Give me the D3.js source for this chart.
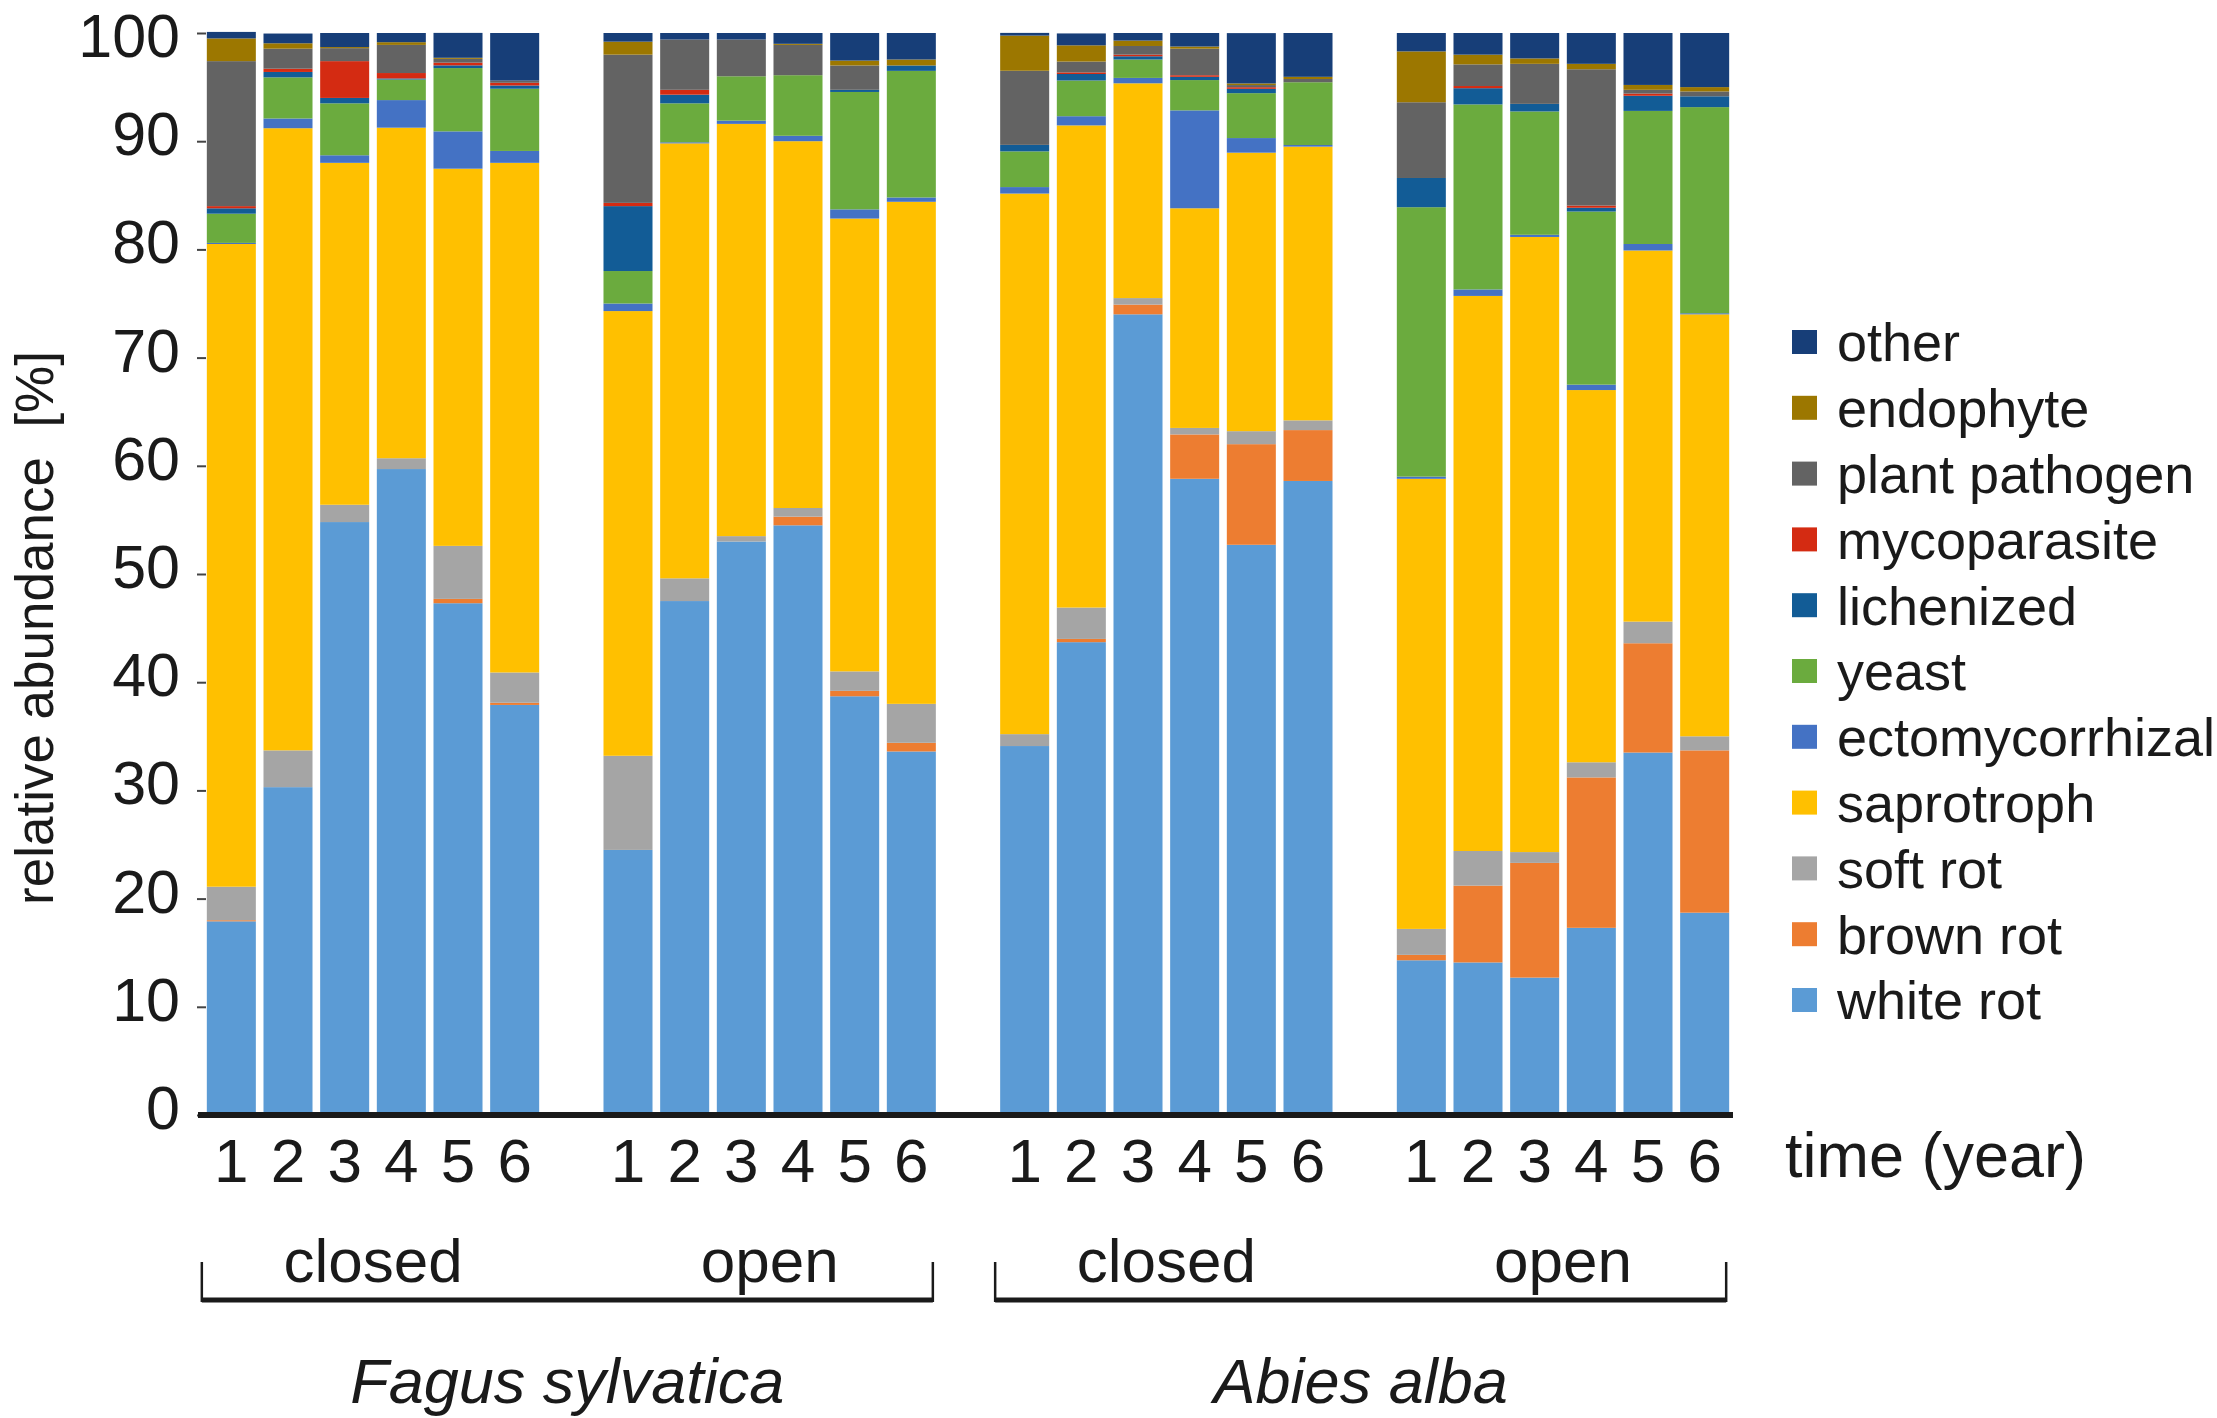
<!DOCTYPE html>
<html>
<head>
<meta charset="utf-8">
<script src="https://cdn.jsdelivr.net/npm/d3@7"></script>
<style>
  body { margin: 0; background: #fff; }
  text { font-family: "Liberation Sans", Arial, sans-serif; fill: #1a1a1a; }
</style>
</head>
<body>
<svg id="chart"></svg>
<script>
// bar order: Fagus closed 1-6, Fagus open 1-6, Abies closed 1-6, Abies open 1-6
var species = ["Fagus sylvatica", "Abies alba"];
var sites = ["closed", "open"];
var years = ["1", "2", "3", "4", "5", "6"];
var yTicks = [0, 10, 20, 30, 40, 50, 60, 70, 80, 90, 100];

// guilds, bottom of the stack first
var guilds = ["white rot", "brown rot", "soft rot", "saprotroph", "ectomycorrhizal",
              "yeast", "lichenized", "mycoparasite", "plant pathogen", "endophyte", "other"];
var colors = ["#5b9bd5", "#ed7d31", "#a5a5a5", "#ffc000", "#4472c4",
              "#6bab3e", "#125c96", "#d42b12", "#636363", "#9c7700", "#173e78"];

var whiteRot    = [17.9, 30.3, 54.8, 59.7, 47.3, 37.9,  24.5, 47.5, 53.0, 54.5, 38.7, 33.6,
                   34.1, 43.7, 74.0, 58.8, 52.7, 58.6,  14.3, 14.1, 12.7, 17.3, 33.5, 18.7];
var brownRot    = [0.1, 0, 0, 0, 0.4, 0.2,  0, 0, 0, 0.8, 0.5, 0.8,
                   0, 0.3, 0.9, 4.1, 9.3, 4.7,  0.5, 7.1, 10.6, 13.9, 10.1, 15.0];
var softRot     = [3.1, 3.4, 1.6, 1.0, 4.9, 2.8,  8.7, 2.1, 0.5, 0.8, 1.8, 3.6,
                   1.1, 2.9, 0.6, 0.6, 1.2, 0.9,  2.4, 3.2, 1.0, 1.4, 2.0, 1.3];
var saprotroph  = [59.4, 57.5, 31.6, 30.55, 34.86, 47.1,  41.1, 40.2, 38.1, 33.9, 41.85, 46.4,
                   49.96, 44.56, 19.85, 20.3, 25.74, 25.3,  41.6, 51.3, 56.85, 34.4, 34.3, 39.0];
var ectomyc     = [0.1, 0.9, 0.7, 2.55, 3.45, 1.1,  0.7, 0.1, 0.3, 0.5, 0.85, 0.4,
                   0.6, 0.85, 0.5, 9.05, 1.35, 0.15,  0.2, 0.6, 0.2, 0.5, 0.6, 0.1];
var yeast       = [2.7, 3.8, 4.8, 1.9, 5.85, 5.75,  3.0, 3.6, 4.1, 5.6, 10.85, 11.7,
                   3.3, 3.3, 1.7, 2.8, 4.15, 5.8,  24.9, 17.1, 11.4, 16.0, 12.3, 19.05];
var lichenized  = [0.5, 0.5, 0.5, 0.1, 0.25, 0.3,  6.0, 0.8, 0, 0, 0.2, 0.5,
                   0.6, 0.6, 0.3, 0.3, 0.4, 0,  2.7, 1.5, 0.7, 0.35, 1.4, 1.0];
var mycoparasite = [0.2, 0.3, 3.4, 0.5, 0.25, 0.25,  0.3, 0.45, 0, 0, 0, 0,
                   0, 0.15, 0.15, 0.15, 0.15, 0,  0, 0.2, 0, 0.2, 0.2, 0];
var pathogen    = [13.4, 1.85, 1.2, 2.6, 0.35, 0.2,  13.7, 4.65, 3.4, 2.8, 2.25, 0,
                   6.85, 1.0, 0.8, 2.45, 0.2, 0.3,  7.0, 2.0, 3.7, 12.6, 0.35, 0.45];
var endophyte   = [2.1, 0.5, 0.1, 0.25, 0.1, 0,  1.2, 0, 0, 0.1, 0.45, 0.55,
                   3.25, 1.5, 0.5, 0.2, 0.15, 0.2,  4.7, 0.9, 0.5, 0.5, 0.45, 0.4];
var other       = [0.6, 0.9, 1.3, 0.85, 2.3, 4.4,  0.8, 0.6, 0.6, 1.0, 2.55, 2.45,
                   0.25, 1.1, 0.7, 1.25, 4.65, 4.05,  1.7, 2.0, 2.35, 2.85, 4.8, 5.0];

var series = [whiteRot, brownRot, softRot, saprotroph, ectomyc, yeast,
              lichenized, mycoparasite, pathogen, endophyte, other];

var W = 2217, H = 1418;

var svg = d3.select("#chart").attr("width", W).attr("height", H);

// one row per bar, plus empty slots between the four groups
var rows = [];
var slots = [];
for (var g = 0; g < 4; g++) {
  years.forEach(function (yr, i) {
    var row = { key: g + "-" + yr, year: yr, group: g };
    guilds.forEach(function (name, k) { row[name] = series[k][g * 6 + i]; });
    rows.push(row);
    slots.push(row.key);
  });
  if (g < 3) slots.push("gap" + g);
}

var x = d3.scaleBand()
    .domain(slots)
    .range([203, 1733])
    .paddingInner(0.135)
    .paddingOuter(0.0675);

var y = d3.scaleLinear()
    .domain([0, 100])
    .range([1115, 33]);

var color = d3.scaleOrdinal().domain(guilds).range(colors);

var stacked = d3.stack().keys(guilds)(rows);

svg.append("g")
  .selectAll("g")
  .data(stacked)
  .enter().append("g")
    .attr("fill", function (d) { return color(d.key); })
  .selectAll("rect")
  .data(function (d) { return d; })
  .enter().append("rect")
    .attr("x", function (d) { return x(d.data.key); })
    .attr("width", x.bandwidth())
    .attr("y", function (d) { return y(d[1]); })
    .attr("height", function (d) { return Math.max(0, y(d[0]) - y(d[1])); });

// y axis: ticks and labels only
var yAxis = svg.append("g")
    .attr("transform", "translate(206,0)")
    .call(d3.axisLeft(y).tickValues(yTicks).tickSize(9).tickPadding(17));
yAxis.select(".domain").remove();
yAxis.selectAll(".tick line").attr("stroke", "#444").attr("stroke-width", 2);
yAxis.selectAll(".tick text")
    .attr("font-size", 61)
    .attr("fill", "#1a1a1a")
    .attr("dy", function (d) { return d === 100 ? "0.38em" : "0.22em"; })
    .style("font-family", "'Liberation Sans', Arial, sans-serif");

svg.append("text")
    .attr("transform", "translate(53,628) rotate(-90)")
    .attr("text-anchor", "middle")
    .attr("font-size", 53)
    .style("white-space", "pre")
    .text("relative abundance  [%]");

// x axis
var xAxis = svg.append("g")
    .attr("transform", "translate(0,1115)")
    .call(d3.axisBottom(x)
      .tickValues(rows.map(function (d) { return d.key; }))
      .tickFormat(function (k) { return k.split("-")[1]; })
      .tickSize(0));
xAxis.select(".domain").remove();
xAxis.selectAll(".tick text")
    .attr("font-size", 62)
    .attr("fill", "#1a1a1a")
    .attr("y", 67)
    .attr("dy", 0)
    .style("font-family", "'Liberation Sans', Arial, sans-serif");

svg.append("line")
    .attr("x1", x.range()[0] - 5).attr("x2", x.range()[1])
    .attr("y1", 1115).attr("y2", 1115)
    .attr("stroke", "#1a1a1a").attr("stroke-width", 6);

svg.append("text")
    .attr("x", 1785).attr("y", 1177)
    .attr("font-size", 63)
    .text("time (year)");

// site labels and species brackets
function groupStart(g) { return x(g + "-1"); }
function groupEnd(g) { return x(g + "-6") + x.bandwidth(); }

for (var gi = 0; gi < 4; gi++) {
  svg.append("text")
      .attr("x", (groupStart(gi) + groupEnd(gi)) / 2)
      .attr("y", 1282)
      .attr("text-anchor", "middle")
      .attr("font-size", 62)
      .text(sites[gi % 2]);
}

species.forEach(function (name, s) {
  var x0 = groupStart(s * 2) - 5, x1 = groupEnd(s * 2 + 1) - 3;
  var br = svg.append("g").attr("stroke", "#1a1a1a");
  br.append("line").attr("x1", x0).attr("x2", x1).attr("y1", 1300).attr("y2", 1300)
      .attr("stroke-width", 5);
  br.append("line").attr("x1", x0).attr("x2", x0).attr("y1", 1262).attr("y2", 1302)
      .attr("stroke-width", 2.5);
  br.append("line").attr("x1", x1).attr("x2", x1).attr("y1", 1262).attr("y2", 1302)
      .attr("stroke-width", 2.5);
  svg.append("text")
      .attr("x", (x0 + x1) / 2)
      .attr("y", 1403)
      .attr("text-anchor", "middle")
      .attr("font-size", 63)
      .attr("font-style", "italic")
      .text(name);
});

// legend, top entry first
var legend = svg.append("g")
  .selectAll("g")
  .data(guilds.slice().reverse())
  .enter().append("g")
    .attr("transform", function (d, i) { return "translate(1792," + (342 + i * 65.8) + ")"; });

legend.append("rect")
    .attr("x", 0).attr("y", -12)
    .attr("width", 25).attr("height", 24)
    .attr("fill", function (d) { return color(d); });

legend.append("text")
    .attr("x", 45)
    .attr("dy", "0.36em")
    .attr("font-size", 54)
    .text(function (d) { return d; });
</script>
</body>
</html>
